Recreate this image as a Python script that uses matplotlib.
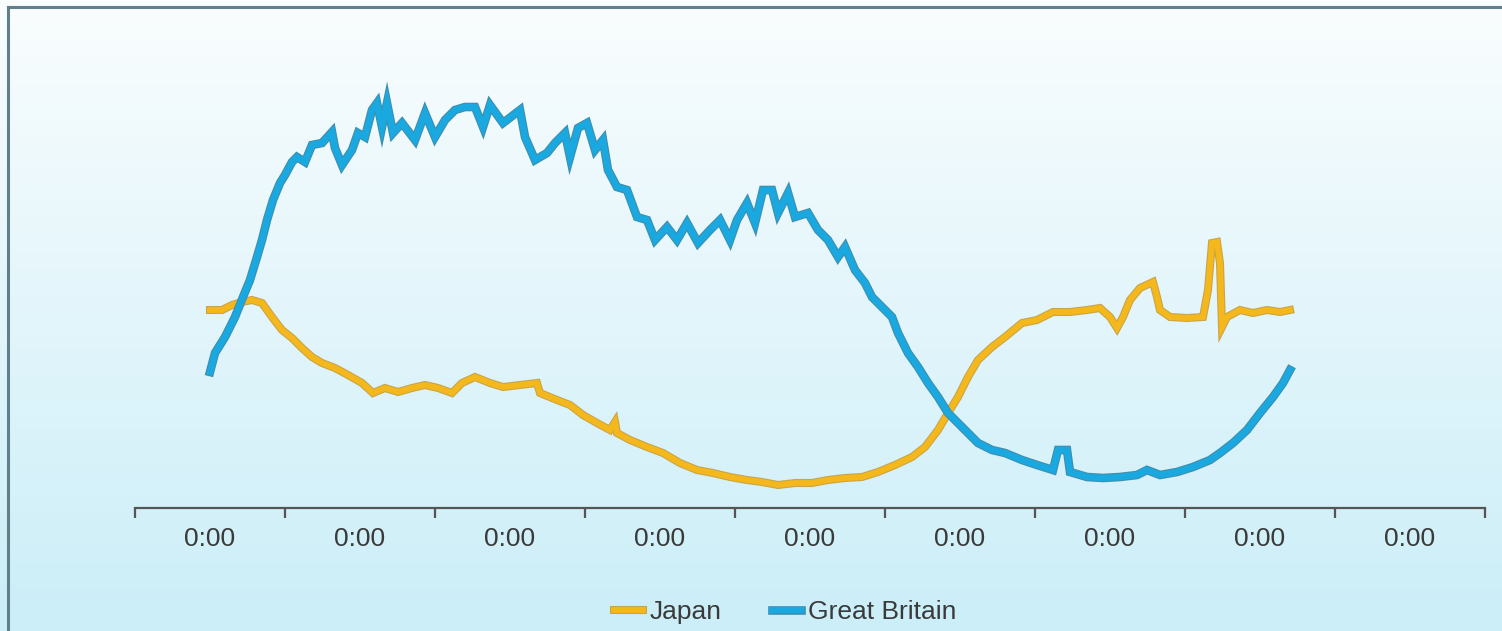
import matplotlib
matplotlib.use("Agg")
import matplotlib.pyplot as plt
import matplotlib.patheffects as pe
import numpy as np
from matplotlib.lines import Line2D

plt.rcParams['font.family'] = ['Liberation Sans', 'DejaVu Sans']

# time axis: one label slot = 60 steps, 9 slots
tick_labels = ["0:00"] * 9

gb_t = [30, 32, 36, 40, 43.2, 46, 48.8, 50.8, 52.8, 55.2, 58, 60, 62.8, 64.8, 68, 70.8,
        74.8, 78.8, 80, 82.8, 86.8, 89.2, 92, 94.8, 96.8, 98.8, 100.8, 103.2, 106.8, 112,
        116, 120, 124, 128, 132, 136, 139.2, 142, 147.2, 154, 156, 160, 164.8, 168, 172,
        174, 177.2, 180.8, 184, 187.2, 189.2, 192.8, 196.8, 200.8, 204.8, 208, 212.8,
        216.8, 220.8, 225.2, 230, 234, 238, 240.8, 244.8, 248, 251.2, 254.8, 257.2, 261.2,
        264, 269.2, 273.2, 277.2, 281.2, 284, 288, 292, 294.8, 298.8, 302.8, 305.2, 309.2,
        313.2, 317.2, 321.2, 325.2, 329.2, 333.2, 337.2, 342.8, 348, 354.8, 360.8, 367.2,
        369.2, 372.8, 374, 380.8, 387.2, 394, 400.8, 404.8, 410, 416.8, 423.2, 430, 434,
        439.2, 444.8, 450, 455.2, 459.2, 462]
gb_v = [136, 155, 171, 191, 211, 228, 251, 268, 288, 308, 325, 333, 346, 351, 346, 363,
        365, 376, 360, 343, 358, 375, 371, 398, 405, 381, 405, 375, 385, 368,
        395, 371, 388, 398, 401, 401, 381, 403, 385, 398, 371, 348, 355, 365, 375,
        351, 380, 385, 358, 368, 338, 321, 318, 291, 288, 268, 281,
        268, 285, 265, 278, 288, 268, 288, 305, 285, 318, 318, 295, 315,
        291, 295, 278, 268, 251, 261, 238, 225, 211, 201, 191, 175, 155,
        141, 125, 111, 95, 85, 75, 65, 58, 55, 48, 43, 38,
        58, 58, 36, 31, 30, 31, 33, 38, 33, 36, 41, 48, 55,
        65, 78, 95, 111, 125, 138]

jp_t = [30, 34.8, 38.8, 42.8, 46.8, 50.8, 54.8, 58.8, 62.8, 66.8, 70.8, 74.8, 80, 85.2,
        90.8, 95.2, 100, 105.2, 110.8, 116, 121.2, 126.8, 130.8, 136, 142, 147.2, 154,
        160.8, 162, 168.8, 174, 179.2, 184.8, 190, 192, 192.8, 198, 204.8, 211.2, 218,
        224.8, 231.2, 238, 244.8, 250.8, 257.2, 264, 270.8, 277.2, 284, 290.8, 297.2, 304,
        310.8, 316, 321.2, 325.2, 329.2, 333.2, 337.2, 342.8, 348, 354.8, 360.8, 367.2,
        374, 380.8, 386, 390, 392.8, 395.2, 398, 402, 407.2, 408.8, 410, 414, 420.8,
        427.2, 429.2, 430.8, 432.8, 434, 434.8, 436.8, 442, 447.2, 452.8, 458, 462]
jp_v = [198, 198, 203, 206, 208, 205, 191, 178, 170, 160, 151, 145, 140, 133,
        125, 115, 120, 116, 120, 123, 120, 115, 125, 131, 125, 121, 123,
        125, 115, 108, 103, 93, 85, 78, 86, 75, 68, 61, 55, 45,
        38, 35, 31, 28, 26, 23, 25, 25, 28, 30, 31, 36, 43,
        51, 61, 78, 95, 111, 131, 148, 161, 171, 185, 188, 196,
        196, 198, 200, 191, 180, 191, 208, 220, 226, 211, 198, 191, 190,
        191, 218, 265, 266, 245, 181, 191, 198, 195, 198, 196, 198]

W, H = 1502, 631
fig = plt.figure(figsize=(W / 100, H / 100), dpi=100)

# background gradient
bg = fig.add_axes([0, 0, 1, 1], zorder=-10)
top = np.array([250, 253, 254]) / 255
bot = np.array([203, 238, 248]) / 255
g = np.linspace(0, 1, 256)[:, None]
grad = top[None, None, :] * (1 - g[..., None]) + bot[None, None, :] * g[..., None]
grad = np.repeat(grad, 2, axis=1)
bg.imshow(grad, aspect='auto', extent=[0, 1, 0, 1])
bg.axis('off')

# frame lines (top and left)
fig.add_artist(Line2D([8 / W, 1], [1 - 7 / H, 1 - 7 / H], color='#5f7f8a', lw=2.2))
fig.add_artist(Line2D([8 / W, 8 / W], [0, 1 - 7 / H], color='#5f7f8a', lw=2.2))

ax = fig.add_axes([135 / W, (H - 508) / H, 1350 / W, 500 / H])
ax.patch.set_visible(False)

jp_line, = ax.plot(jp_t, jp_v, color='#f5b81c', lw=4.2, label='Japan', solid_joinstyle='miter',
                   path_effects=[pe.Stroke(linewidth=5.8, foreground='#c9a548'), pe.Normal()])
gb_line, = ax.plot(gb_t, gb_v, color='#1aa8e0', lw=4.6, label='Great Britain', solid_joinstyle='miter',
                   path_effects=[pe.Stroke(linewidth=6.2, foreground='#3f8fad'), pe.Normal()])

ax.set_xlim(0, 540)
ax.set_ylim(0, 500)
for s in ['top', 'right', 'left']:
    ax.spines[s].set_visible(False)
ax.spines['bottom'].set_color('#555555')
ax.spines['bottom'].set_linewidth(1.6)
ax.set_yticks([])

ax.set_xticks(np.arange(0, 541, 60))
ax.set_xticklabels([])
ax.set_xticks(np.arange(30, 540, 60), minor=True)
ax.set_xticklabels(tick_labels, minor=True)
ax.tick_params(axis='x', which='major', length=7, width=1.6, color='#555555', direction='out')
ax.tick_params(axis='x', which='minor', length=0, pad=14, labelsize=19, labelcolor='#3a3a3a')

leg = fig.legend(handles=[jp_line, gb_line], loc='center', bbox_to_anchor=(785 / W, 19 / H),
                 ncol=2, frameon=False, fontsize=19, handlelength=1.1, handletextpad=0.25,
                 columnspacing=1.9, labelcolor='#3a3a3a')

fig.savefig('out.png', dpi=100)
